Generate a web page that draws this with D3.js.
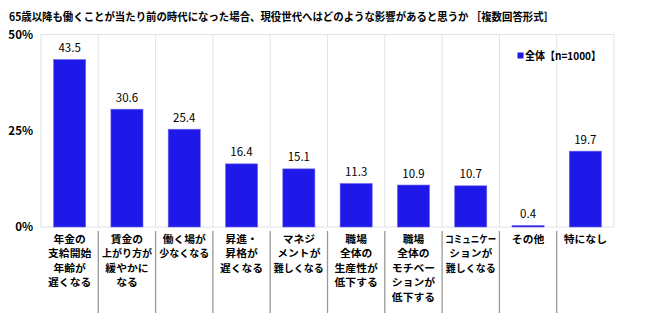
<!DOCTYPE html>
<html><head><meta charset="utf-8">
<script src="https://cdn.jsdelivr.net/npm/d3@7"></script>
<style>
body{margin:0;background:#fff;}
svg{display:block;}
text{font-family:"Noto Sans CJK JP","Liberation Sans",sans-serif;}
</style></head>
<body>
<script>
const title = "65歳以降も働くことが当たり前の時代になった場合、現役世代へはどのような影響があると思うか ［複数回答形式］";
const categories = ["年金の支給開始年齢が遅くなる","賃金の上がり方が緩やかになる","働く場が少なくなる","昇進・昇格が遅くなる","マネジメントが難しくなる","職場全体の生産性が低下する","職場全体のモチベーションが低下する","コミュニケーションが難しくなる","その他","特になし"];
const categoryLines = [
  ["年金の","支給開始","年齢が","遅くなる"],
  ["賃金の","上がり方が","緩やかに","なる"],
  ["働く場が","少なくなる"],
  ["昇進・","昇格が","遅くなる"],
  ["マネジ","メントが","難しくなる"],
  ["職場","全体の","生産性が","低下する"],
  ["職場","全体の","モチベー","ションが","低下する"],
  ["コミュニケー","ションが","難しくなる"],
  ["その他"],
  ["特になし"]
];
const values = [43.5, 30.6, 25.4, 16.4, 15.1, 11.3, 10.9, 10.7, 0.4, 19.7];
const yTicks = [0, 25, 50];
const seriesName = "全体【n=1000】";

(function () {
const W = 662, H = 334;
const svg = d3.select("body").append("svg").attr("width", W).attr("height", H);

const pL = 41, pR = 614, pT = 34.5, pB = 227;
const x = d3.scaleBand().domain(categories).range([pL, pR]).paddingInner(0.44).paddingOuter(0.22);
const xCell = d3.scaleBand().domain(categories).range([pL, pR]).padding(0);
const y = d3.scaleLinear().domain([0, 50]).range([pB, pT]);

// title
svg.append("text").attr("x", 9).attr("y", 21)
  .attr("font-size", 11).attr("font-weight", "bold").attr("fill", "#000")
  .attr("textLength", 545).attr("lengthAdjust", "spacingAndGlyphs")
  .text(title);

// plot frame + vertical grid
const grid = svg.append("g").attr("stroke", "#e2e2e2").attr("stroke-width", 1).attr("fill", "none");
grid.append("rect").attr("x", pL).attr("y", y(50)).attr("width", pR - pL).attr("height", y(0) - y(50));
grid.selectAll("line.v").data(categories.slice(1)).join("line")
  .attr("x1", d => xCell(d)).attr("x2", d => xCell(d))
  .attr("y1", y(50)).attr("y2", y(0));

// y axis labels
svg.append("g").selectAll("text").data(yTicks).join("text")
  .attr("x", 33).attr("y", d => y(d) + 4)
  .attr("text-anchor", "end").attr("font-size", 11.5).attr("font-weight", "bold")
  .attr("font-family", "Liberation Sans, Arial, sans-serif").attr("fill", "#000")
  .text(d => d + "%");

// bars
svg.append("g").selectAll("rect").data(values).join("rect")
  .attr("x", (d, i) => x(categories[i]))
  .attr("width", x.bandwidth())
  .attr("y", d => y(d))
  .attr("height", d => y(0) - y(d))
  .attr("fill", "#1e18e8")
  .attr("stroke", "#6a66f0").attr("stroke-width", 0.6);

// value labels
svg.append("g").selectAll("text").data(values).join("text")
  .attr("x", (d, i) => x(categories[i]) + x.bandwidth() / 2)
  .attr("y", d => y(d) - 7.5)
  .attr("text-anchor", "middle").attr("font-size", 11.5)
  .attr("font-family", "Liberation Sans, Arial, sans-serif").attr("fill", "#000")
  .text(d => d.toFixed(1));

// category separators
svg.append("g").attr("stroke", "#999").attr("stroke-width", 1.3)
  .selectAll("line").data(categories.slice(1)).join("line")
  .attr("x1", d => xCell(d)).attr("x2", d => xCell(d))
  .attr("y1", 231).attr("y2", 313);

// category labels (one text per category, lines as tspans)
const lab = svg.append("g");
categories.forEach((c, i) => {
  const cx = xCell(c) + xCell.bandwidth() / 2;
  const t = lab.append("text").attr("x", cx).attr("y", 242.5)
    .attr("text-anchor", "middle").attr("font-size", 10).attr("font-weight", "bold").attr("fill", "#000");
  categoryLines[i].forEach((ln, j) => {
    const s = t.append("tspan").attr("x", cx).attr("y", 242.5 + j * 14.6).text(ln);
    const len = s.node().getComputedTextLength();
    const target = Math.min(ln.length * 10.8, 51);
    if (Math.abs(len - target) > 1) s.attr("textLength", target).attr("lengthAdjust", "spacingAndGlyphs");
  });
});

// legend
svg.append("rect").attr("x", 517.5).attr("y", 52.5).attr("width", 6).attr("height", 6).attr("fill", "#1e18e8");
svg.append("text").attr("x", 525).attr("y", 60).attr("font-size", 11).attr("font-weight", "bold").attr("fill", "#000")
  .attr("textLength", 76).attr("lengthAdjust", "spacingAndGlyphs")
  .text(seriesName);
})();
</script>
</body></html>
